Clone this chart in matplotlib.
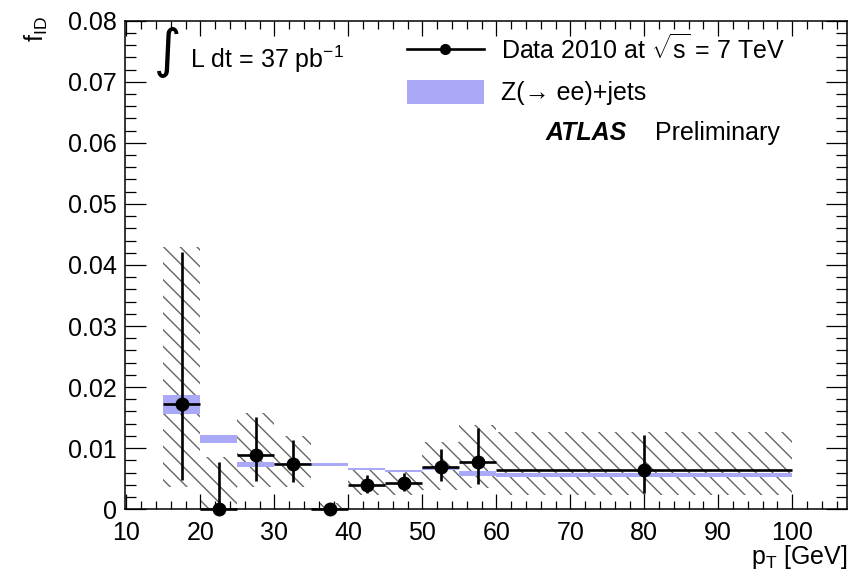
import matplotlib
matplotlib.use('Agg')
import matplotlib.pyplot as plt
from matplotlib.lines import Line2D
from matplotlib.patches import Patch
from matplotlib.ticker import MultipleLocator, FuncFormatter
import numpy as np

plt.rcParams['font.family'] = ['Liberation Sans', 'DejaVu Sans']
plt.rcParams['mathtext.fontset'] = 'custom'
plt.rcParams['mathtext.rm'] = 'Liberation Sans'
plt.rcParams['mathtext.it'] = 'Liberation Sans:italic'
plt.rcParams['mathtext.bf'] = 'Liberation Sans:bold'
plt.rcParams['hatch.linewidth'] = 1.0

# pT bins [GeV]
bin_lo = [15, 20, 25, 30, 35, 40, 45, 50, 55, 60]
bin_hi = [20, 25, 30, 35, 40, 45, 50, 55, 60, 100]

# data 2010 (f_ID) with asymmetric stat errors
data_y = [0.0173, 0.0, 0.0088, 0.0074, 0.0, 0.0039, 0.0043, 0.0069, 0.0078, 0.0064]
err_up = [0.0248, 0.0077, 0.0063, 0.0039, 0.0, 0.0017, 0.0016, 0.0030, 0.0055, 0.0057]
err_dn = [0.0126, 0.0, 0.0042, 0.0029, 0.0, 0.0013, 0.0014, 0.0023, 0.0037, 0.0037]

# total uncertainty band (hatched)
syst_lo = [0.0036, -0.002, 0.0036, 0.0036, 0.0, 0.0023, 0.0023, 0.0031, 0.0034, 0.0023]
syst_hi = [0.0429, 0.0086, 0.0157, 0.0120, 0.0010, 0.0066, 0.0063, 0.0110, 0.0138, 0.0126]

# Z(->ee)+jets MC band
mc_lo = [0.0156, 0.0108, 0.0069, 0.0072, 0.0071, 0.0064, 0.0061, 0.0064, 0.0054, 0.0052]
mc_hi = [0.0187, 0.0122, 0.0077, 0.0076, 0.0075, 0.0067, 0.0064, 0.0069, 0.0062, 0.0060]

lo = np.array(bin_lo, dtype=float)
hi = np.array(bin_hi, dtype=float)
width = hi - lo
centers = (lo + hi) / 2

fig = plt.figure(figsize=(8.56, 5.76), dpi=100)
ax = fig.add_axes([0.146, 0.116, 0.8435, 0.848])

# hatched uncertainty
ax.bar(lo, np.array(syst_hi) - np.array(syst_lo), width=width, bottom=syst_lo,
       align='edge', facecolor='none', edgecolor='#666666', linewidth=0,
       hatch='\\\\', zorder=1)
# MC band
ax.bar(lo, np.array(mc_hi) - np.array(mc_lo), width=width, bottom=mc_lo,
       align='edge', color='#a9a9f8', linewidth=0, zorder=2)
# data
ax.errorbar(centers, data_y, yerr=[err_dn, err_up], xerr=width / 2,
            fmt='o', color='black', markersize=9, elinewidth=1.9,
            capsize=0, zorder=3, clip_on=False)

ax.set_xlim(9.8, 107.4)
ax.set_ylim(0, 0.08)
ax.xaxis.set_major_locator(MultipleLocator(10))
ax.xaxis.set_minor_locator(MultipleLocator(2))
ax.yaxis.set_major_locator(MultipleLocator(0.01))
ax.yaxis.set_minor_locator(MultipleLocator(0.002))
ax.yaxis.set_major_formatter(FuncFormatter(lambda v, p: '0' if abs(v) < 1e-9 else f'{v:.2f}'))
ax.tick_params(axis='both', which='both', direction='in', top=True, right=True,
               labelsize=18, width=0.9)
ax.tick_params(axis='x', which='major', length=11, pad=8.5)
ax.tick_params(axis='x', which='minor', length=5.5)
ax.tick_params(axis='y', which='major', length=15, pad=6)
ax.tick_params(axis='y', which='minor', length=8)
for s in ax.spines.values():
    s.set_linewidth(1.1)

fig.text(0.043, 0.972, r'f$_{\mathrm{ID}}$', rotation=90, ha='center', va='top', fontsize=18)
fig.text(0.99, 0.057, r'p$_{\mathrm{T}}$ [GeV]', ha='right', va='top', fontsize=18)

# legend
handles = [Line2D([0], [0], color='black', marker='o', markersize=7, linewidth=1.9),
           Patch(facecolor='#a9a9f8', edgecolor='none')]
labels = [r'Data 2010 at $\sqrt{\mathrm{s}}$ = 7 TeV', 'Z(→ ee)+jets']
ax.legend(handles, labels, loc='upper left', bbox_to_anchor=(0.39, 0.972),
          frameon=False, fontsize=18, handlelength=3.1, handleheight=1.1,
          handletextpad=0.68, labelspacing=0.62, borderaxespad=0, borderpad=0)

ax.text(0.583, 0.770, 'ATLAS', transform=ax.transAxes, fontsize=18,
        fontweight='bold', fontstyle='italic', ha='left', va='center')
ax.text(0.734, 0.770, 'Preliminary', transform=ax.transAxes, fontsize=18,
        ha='left', va='center')

ax.text(0.0596, 0.936, '∫', transform=ax.transAxes, fontsize=38,
        ha='center', va='center', family='DejaVu Sans')
ax.text(0.09, 0.922, r'L dt = 37 pb$^{-1}$', transform=ax.transAxes,
        fontsize=18, ha='left', va='center')

fig.savefig('out.png', dpi=100)
